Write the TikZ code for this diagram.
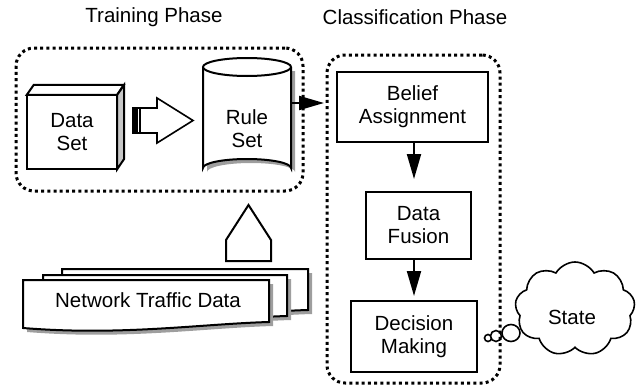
\documentclass[tikz,border=0pt]{standalone}
\usepackage{fontspec}
\setmainfont{Liberation Sans}
\usetikzlibrary{arrows.meta,shapes.symbols,calc}

\tikzset{
  txt/.style={font=\fontsize{20.5pt}{23pt}\selectfont, align=center, inner sep=0pt},
  stepbox/.style={txt, draw, line width=2pt, fill=white},
  phasebox/.style={draw, line width=3pt, dash pattern=on 3pt off 3.2pt,
                   rounded corners=18pt, inner sep=0pt},
  flow/.style={line width=2pt, -{Triangle[length=25pt,width=14pt]}},
  outline/.style={draw, line width=2pt, fill=white, line join=miter},
  shade/.style={fill=black!38, draw=none},
}

% document sheet with a wavy lower edge: #1,#2 top-left, #3 right, #4 lower-right y
\newcommand{\sheetpath}[4]{%
  (#1,#2) -- (#3,#2) -- (#3,#4)
  .. controls ({#3-0.28*(#3-#1)},{#4+2}) and ({#1+0.4*(#3-#1)},{#4+14}) .. (#1,{#4+6}) -- cycle}

\begin{document}
\begin{tikzpicture}[x=1pt,y=-1pt]
\useasboundingbox (0,0) rectangle (643,388);

% phase titles
\node[txt] (trainlbl) at (154,17) {Training Phase};
\node[txt] (classlbl) at (415,17) {Classification Phase};

% ---- data set (3-D box)
\node[txt, minimum width=90pt, minimum height=74pt] (dataset) at (72,132) {Data\\Set};
\draw[outline] (dataset.north west) -- ++(7,-10) -- ++(90,0) -- (dataset.north east) -- cycle;
\draw[outline, fill=black!22] (dataset.north east) -- ++(7,-10) -- ++(0,74) -- (dataset.south east) -- cycle;
\draw[line width=2pt] (dataset.north west) rectangle (dataset.south east);

% ---- hollow block arrow
\draw[outline, line width=1.6pt] (133,108) -- (157,108) -- (157,98) -- (193,120.5)
  -- (157,143) -- (157,133) -- (133,133) -- cycle;
\fill (133,108) rectangle (137.5,133);
\draw[line width=1.6pt] (140,108) -- (140,133);

% ---- rule set (cylinder)
\node[minimum width=88pt, minimum height=120pt, inner sep=0pt] (ruleset) at (247,117) {};
\fill[shade] (207,71) -- (207,172) arc[start angle=180,end angle=360,x radius=44,y radius=9]
  -- (295,71) -- cycle;
\draw[outline] (203,67) -- (203,168) arc[start angle=180,end angle=360,x radius=44,y radius=9]
  -- (291,67);
\draw[outline] (247,67) ellipse[x radius=44, y radius=9];
\node[txt] (rulelbl) at (247,128.5) {Rule\\Set};

% ---- network traffic data (stacked sheets)
\fill[shade] \sheetpath{66}{273}{312}{314};
\draw[outline] \sheetpath{62}{269}{308}{310};
\fill[shade] \sheetpath{47}{279}{291}{320};
\draw[outline] \sheetpath{43}{275}{287}{316};
\fill[shade] \sheetpath{27}{284}{273}{326};
\draw[outline] \sheetpath{23}{280}{269}{322};
\node[txt] (traffic) at (148,300) {Network Traffic Data};

% ---- upward block arrow
\draw[outline] (226,261) -- (226,240) -- (248.5,205) -- (271,240) -- (271,261) -- cycle;

% ---- classification steps
\node[stepbox, minimum width=151pt, minimum height=70pt] (belief) at (412.5,107) {Belief\\Assignment};
\node[stepbox, minimum width=105pt, minimum height=67pt] (fusion) at (418.5,225.5) {Data\\Fusion};
\node[stepbox, minimum width=126pt, minimum height=71pt] (decision) at (414,336.5) {Decision\\Making};

\coordinate (belin) at ([yshift=4pt]belief.west);
\draw[flow, shorten >=12pt] (ruleset.east |- belin) -- (belin);
\draw[flow, shorten >=12pt] (belief.south -| decision.north) -- (fusion.north -| decision.north);
\draw[flow, shorten >=4pt] (fusion.south -| decision.north) -- (decision.north);

% ---- state (thought cloud)
\node[cloud, draw, line width=1.6pt, fill=white, cloud puffs=9, cloud puff arc=120,
      aspect=1.25, minimum width=120pt, minimum height=94pt, inner sep=0pt] (state) at (575,309) {};
\node[txt] (statelbl) at (572,317) {State};
\draw[line width=1.6pt, fill=white] (488,338) circle[radius=3.5];
\draw[line width=1.6pt, fill=white] (496,336) circle[radius=5.5];
\draw[line width=1.6pt, fill=white] (511,333) ellipse[x radius=9, y radius=8.5];

% ---- phase frames
\node[phasebox, minimum width=287pt, minimum height=143pt] (trainbox) at (159.5,119.5) {};
\node[phasebox, minimum width=173pt, minimum height=328pt] (classbox) at (413.5,219) {};

\end{tikzpicture}
\end{document}
